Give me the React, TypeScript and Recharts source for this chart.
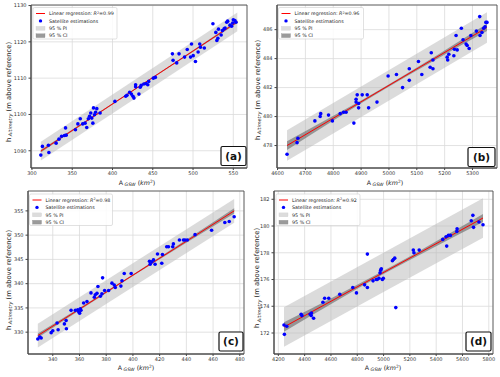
import React from 'react';
import { ComposedChart, XAxis, YAxis, CartesianGrid, Area, Line, Scatter, ReferenceArea } from 'recharts';

const FONT = '"DejaVu Sans", Verdana, sans-serif';

// ---------- Panel (a) ----------
const pointsA: [number, number][] = [
  [311, 1088.8], [313, 1091.2], [320.4, 1091.5], [321, 1089.5], [330, 1092.1], [333.5, 1093.2],
  [336.8, 1094], [340.4, 1094.2], [341.7, 1096.3], [342.5, 1094.3], [354, 1095.8], [357, 1097.4],
  [360, 1098.8], [363, 1097.4], [366, 1097.6], [368, 1096.4], [370, 1098.8], [371.5, 1099.5],
  [373, 1100.4], [374.3, 1099], [375.6, 1097.6], [376.4, 1101.8], [377.6, 1099.9], [379, 1100.6],
  [380.5, 1101.6], [384.6, 1100.4], [403, 1103.6], [416.4, 1105], [418, 1105.3], [421.3, 1106.1],
  [423.4, 1105.6], [425.4, 1105], [426.6, 1104.5], [428.7, 1107.6], [428.7, 1108.2], [432.8, 1105.6],
  [434.4, 1107.5], [435.6, 1108], [438.9, 1108.4], [441.7, 1108.5], [443.8, 1108.2], [445, 1109.1],
  [450.7, 1110], [453.2, 1110.2], [474.4, 1116.7], [475.2, 1114.9], [479.7, 1114.2], [482.6, 1116.7],
  [489.5, 1115.8], [492.8, 1117.9], [496.9, 1115.8], [498.1, 1119.4], [500.2, 1116.2], [503, 1114.6],
  [506.3, 1117.2], [508.3, 1119.4], [509.2, 1118.5], [514, 1118.3], [524.7, 1125], [528.3, 1122.6],
  [529.6, 1120.4], [530.8, 1121], [531.6, 1123.5], [534.9, 1121.9], [536.5, 1123.1], [538.6, 1123.6],
  [539.8, 1123.8], [541.8, 1125.4], [543, 1125.7], [545.9, 1124.6], [547.9, 1124.3], [549.2, 1125.2],
  [550, 1126.1], [552, 1125.9], [553.3, 1125.4],
];
const regA: [number, number][] = [[311, 1089.9], [555, 1125.5]];
const piA: [number, number, number][] = [[311, 1087.3, 1092.5], [433, 1105.1, 1110.3], [555, 1122.9, 1128.1]];
const ciA: [number, number, number][] = [
  [311, 1089.55, 1090.25], [372, 1098.6, 1099.0], [433, 1107.58, 1107.82], [494, 1116.4, 1116.8], [555, 1125.15, 1125.85],
];
const xTicksA = [300, 350, 400, 450, 500, 550];
const yTicksA = [1090, 1100, 1110, 1120, 1130];

// ---------- Panel (b) ----------
const pointsB: [number, number][] = [
  [4634, 477.4], [4670, 478.2], [4673, 478.5], [4734, 479.7], [4753, 480.0], [4755, 480.2],
  [4783, 480.1], [4797, 479.7], [4825, 480.2], [4837, 480.3], [4846, 480.3], [4874, 479.55],
  [4882, 481.2], [4882, 481.0], [4886, 481.5], [4891, 480.6], [4891, 480.9], [4904, 481.5],
  [4922, 481.5], [4927, 480.6], [4957, 481.0], [4997, 482.8], [5027, 482.9], [5049, 482.0],
  [5073, 482.5], [5073, 483.3], [5106, 483.8], [5118, 482.9], [5148, 483.4], [5152, 484.4],
  [5158, 483.9], [5158, 483.3], [5209, 484.1], [5211, 483.9], [5215, 484.3], [5233, 484.2],
  [5235, 484.65], [5241, 485.6], [5245, 484.6], [5260, 486.1], [5266, 485.3], [5277, 485.0],
  [5281, 484.9], [5288, 484.7], [5294, 485.6], [5314, 485.9], [5326, 486.9], [5327, 485.6],
  [5334, 485.8], [5340, 486.1], [5345, 486.2], [5348, 486.5], [5352, 486.5],
];
const regB: [number, number][] = [[4634, 478.0], [5352, 486.15]];
const piB: [number, number, number][] = [[4634, 476.95, 479.05], [4993, 481.02, 483.12], [5352, 485.1, 487.2]];
const ciB: [number, number, number][] = [
  [4634, 477.7, 478.3], [4813.5, 479.89, 480.19], [4993, 481.99, 482.15], [5172.5, 483.98, 484.24], [5352, 485.9, 486.4],
];
const xTicksB = [4600, 4700, 4800, 4900, 5000, 5100, 5200, 5300];
const yTicksB = [478, 480, 482, 484, 486];

// ---------- Panel (c) ----------
const pointsC: [number, number][] = [
  [328.8, 328.6], [330.3, 329.0], [331.3, 328.8], [338.8, 329.9], [340, 330.3], [343.2, 331.9],
  [344, 330.5], [348.7, 331.7], [350, 332.4], [350.2, 330.7], [353.7, 334.5], [356.9, 334.5],
  [358.7, 334.6], [359.4, 334.2], [360.1, 333.9], [360.6, 334.8], [361.1, 334.5], [363.1, 336.0],
  [365.6, 336.3], [368.6, 338.1], [371.1, 337.2], [371.8, 337.7], [373.1, 338.0], [373.8, 339.4],
  [375.6, 337.4], [376.8, 337.9], [377.3, 341.2], [378.8, 338.6], [381.8, 338.6], [384.3, 340.1],
  [386, 339.7], [386.8, 339.2], [391, 339.5], [391.8, 340.6], [393.5, 342.1], [398.7, 342.1],
  [412.4, 344.6], [412.9, 344.0], [414.1, 344.5], [415.4, 344.9], [416.6, 344.0], [418.4, 346.1],
  [421.6, 344.2], [422.1, 346.0], [425.3, 347.6], [426.6, 347.6], [429.8, 347.6], [430.3, 348.2],
  [434.8, 349.0], [437.8, 349.0], [439, 349.0], [440.7, 349.0], [446.5, 350.1], [458.9, 351.0],
  [468.8, 352.6], [472.1, 352.8], [475.8, 353.8],
];
const regC: [number, number][] = [[328.8, 329.3], [475.8, 355.0]];
const piC: [number, number, number][] = [[328.8, 326.85, 331.75], [402.3, 339.7, 344.6], [475.8, 352.55, 357.45]];
const ciC: [number, number, number][] = [
  [328.8, 328.85, 329.75], [365.55, 335.48, 335.98], [402.3, 342.0, 342.3], [439.05, 348.28, 348.88], [475.8, 354.45, 355.55],
];
const xTicksC = [340, 360, 380, 400, 420, 440, 460, 480];
const yTicksC = [330, 335, 340, 345, 350, 355];

// ---------- Panel (d) ----------
const pointsD: [number, number][] = [
  [4243, 172.6], [4246, 171.9], [4264, 172.5], [4373, 173.4], [4379, 173.3], [4442, 173.4],
  [4450, 173.3], [4452, 173.5], [4468, 173.1], [4539, 174.3], [4552, 174.6], [4583, 174.6],
  [4667, 174.9], [4766, 175.4], [4794, 175.0], [4856, 175.6], [4877, 175.4], [4877, 177.9],
  [4920, 175.9], [4945, 176.0], [4952, 176.0], [4965, 176.1], [4973, 176.5], [4978, 176.7],
  [4983, 176.8], [4991, 176.0], [4998, 176.1], [5067, 177.4], [5075, 177.5], [5085, 177.6],
  [5093, 173.9], [5226, 178.2], [5231, 178.0], [5271, 178.2], [5450, 179.0], [5475, 179.2],
  [5480, 178.5], [5493, 179.3], [5508, 179.3], [5557, 179.6], [5559, 179.8], [5667, 180.4],
  [5679, 180.8], [5684, 179.9], [5725, 180.3], [5756, 180.1],
];
const regD: [number, number][] = [[4243, 172.45], [5756, 180.6]];
const piD: [number, number, number][] = [[4243, 170.98, 173.92], [4999.5, 175.06, 178.0], [5756, 179.13, 182.07]];
const ciD: [number, number, number][] = [
  [4243, 172.1, 172.8], [4621.25, 174.29, 174.69], [4999.5, 176.41, 176.65], [5377.75, 178.38, 178.74], [5756, 180.3, 180.9],
];
const xTicksD = [4200, 4400, 4600, 4800, 5000, 5200, 5400, 5600, 5800];
const yTicksD = [172, 174, 176, 178, 180, 182];

const r2Labels = ['0.99', '0.96', '0.98', '0.92'];
const tagLabels = ['(a)', '(b)', '(c)', '(d)'];

type Cfg = {
  left: number; top: number; width: number; height: number;
  mTop: number; mRight: number; yW: number; xH: number;
  xDomain: [number, number]; yDomain: [number, number];
  xTicks: number[]; yTicks: number[];
  points: [number, number][]; reg: [number, number][];
  pi: [number, number, number][]; ci: [number, number, number][];
};

const panels: Cfg[] = [
  { left: 0, top: 0, width: 250, height: 190, mTop: 5, mRight: 3, yW: 31, xH: 22,
    xDomain: [298.8, 567], yDomain: [1085.25, 1130.15], xTicks: xTicksA, yTicks: yTicksA,
    points: pointsA, reg: regA, pi: piA, ci: ciA },
  { left: 250, top: 0, width: 250, height: 190, mTop: 5, mRight: 3, yW: 27, xH: 22,
    xDomain: [4598, 5388], yDomain: [476.45, 487.7], xTicks: xTicksB, yTicks: yTicksB,
    points: pointsB, reg: regB, pi: piB, ci: ciB },
  { left: 0, top: 185, width: 250, height: 192, mTop: 6, mRight: 6, yW: 28, xH: 23,
    xDomain: [321.45, 483.15], yDomain: [325.5, 359.1], xTicks: xTicksC, yTicks: yTicksC,
    points: pointsC, reg: regC, pi: piC, ci: ciC },
  { left: 250, top: 185, width: 250, height: 192, mTop: 6, mRight: 7, yW: 24, xH: 23,
    xDomain: [4167, 5832], yDomain: [170.43, 182.62], xTicks: xTicksD, yTicks: yTicksD,
    points: pointsD, reg: regD, pi: piD, ci: ciD },
];

const tickStyle = { fontSize: 5, fill: '#333', fontFamily: FONT };

const Dot = (p: any) => <circle cx={p.cx} cy={p.cy} r={1.8} fill="#0000ff" />;

function Panel({ cfg }: { cfg: Cfg }) {
  const pts = cfg.points.map(([x, y]) => ({ x, y }));
  const line = cfg.reg.map(([x, y]) => ({ x, y }));
  const pi = cfg.pi.map(([x, lo, hi]) => ({ x, band: [lo, hi] }));
  const ci = cfg.ci.map(([x, lo, hi]) => ({ x, band: [lo, hi] }));
  return (
    <div style={{ position: 'absolute', left: cfg.left, top: cfg.top }}>
      <ComposedChart width={cfg.width} height={cfg.height}
        margin={{ top: cfg.mTop, right: cfg.mRight, left: 0, bottom: 0 }}>
        <CartesianGrid stroke="#dadada" strokeWidth={0.8} />
        <XAxis type="number" dataKey="x" domain={cfg.xDomain} ticks={cfg.xTicks} allowDataOverflow
          interval={0} height={cfg.xH} tickSize={2} tickMargin={1} tick={tickStyle} stroke="#444" />
        <YAxis type="number" domain={cfg.yDomain} ticks={cfg.yTicks} allowDataOverflow
          interval={0} width={cfg.yW} tickSize={2.5} tickMargin={2} tick={tickStyle} stroke="#444" />
        <Area data={pi} dataKey="band" type="linear" stroke="none" fill="#b8b8b8" fillOpacity={0.5}
          isAnimationActive={false} />
        <Area data={ci} dataKey="band" type="monotone" stroke="none" fill="#505050" fillOpacity={0.5}
          isAnimationActive={false} />
        <Line data={line} dataKey="y" type="linear" stroke="#ff0000" strokeWidth={1} dot={false}
          isAnimationActive={false} />
        <Scatter data={pts} dataKey="y" shape={Dot} isAnimationActive={false} />
        <ReferenceArea x1={cfg.xDomain[0]} x2={cfg.xDomain[1]} y1={cfg.yDomain[0]} y2={cfg.yDomain[1]}
          fill="none" stroke="#444" strokeWidth={0.8} />
      </ComposedChart>
    </div>
  );
}

function LegendBox({ x, y, w, r2 }: { x: number; y: number; w: number; r2: string }) {
  const rows = [y + 6, y + 13.4, y + 20.8, y + 28.2];
  const tx = x + 16;
  return (
    <g fontFamily={FONT} fontSize={4.8} fill="#222">
      <rect x={x} y={y} width={w} height={31.5} rx={1.5} fill="#ffffff" fillOpacity={0.85}
        stroke="#cccccc" strokeWidth={0.6} />
      <line x1={x + 3} x2={x + 12} y1={rows[0]} y2={rows[0]} stroke="#ff0000" strokeWidth={1} />
      <text x={tx} y={rows[0] + 1.7}>
        Linear regression: <tspan fontStyle="italic">R</tspan>
        <tspan dy={-1.6} fontSize={3.4}>2</tspan>
        <tspan dy={1.6}>={r2}</tspan>
      </text>
      <circle cx={x + 7.5} cy={rows[1]} r={1.7} fill="#0000ff" />
      <text x={tx} y={rows[1] + 1.7}>Satellite estimations</text>
      <rect x={x + 3} y={rows[2] - 1.9} width={9} height={3.8} fill="#dcdcdc" stroke="#c8c8c8" strokeWidth={0.3} />
      <text x={tx} y={rows[2] + 1.7}>95 % PI</text>
      <rect x={x + 3} y={rows[3] - 1.9} width={9} height={3.8} fill="#9a9a9a" stroke="#888" strokeWidth={0.3} />
      <text x={tx} y={rows[3] + 1.7}>95 % CI</text>
    </g>
  );
}

function Tag({ x, y, w, h, label }: { x: number; y: number; w: number; h: number; label: string }) {
  return (
    <g>
      <rect x={x} y={y} width={w} height={h} rx={1.5} fill="#ffffff" stroke="#111" strokeWidth={1.2} />
      <text x={x + w / 2} y={y + h / 2 + 3.6} textAnchor="middle" fontFamily={FONT} fontWeight="bold"
        fontSize={10.5} fill="#111">{label}</text>
    </g>
  );
}

function XTitle({ cx, y }: { cx: number; y: number }) {
  return (
    <text x={cx} y={y} textAnchor="middle" fontFamily={FONT} fontSize={6.3} fill="#222">
      A<tspan dy={1.3} fontSize={4.6} fontStyle="italic"> GSW</tspan>
      <tspan dy={-1.3}> (</tspan><tspan fontStyle="italic">km</tspan>
      <tspan dy={-2.3} fontSize={4.4}>2</tspan><tspan dy={2.3}>)</tspan>
    </text>
  );
}

function YTitle({ cx, cy }: { cx: number; cy: number }) {
  return (
    <text transform={`translate(${cx},${cy}) rotate(-90)`} x={0} y={2.2} textAnchor="middle"
      fontFamily={FONT} fontSize={6.8} fill="#222">
      h<tspan dy={1.4} fontSize={4.9} fontStyle="italic"> Altimetry</tspan>
      <tspan dy={-1.4}> (m above reference)</tspan>
    </text>
  );
}

const legendPos = [
  { x: 33, y: 7.5, w: 84 }, { x: 278.5, y: 7.5, w: 85 },
  { x: 29.5, y: 194, w: 83 }, { x: 276, y: 194, w: 84 },
];
const tagPos = [
  { x: 221, y: 146.5, w: 25, h: 19 }, { x: 468, y: 147.5, w: 27, h: 19 },
  { x: 219, y: 332, w: 24, h: 19 }, { x: 466, y: 332, w: 25, h: 19 },
];
const xTitlePos = [{ cx: 137, y: 185 }, { cx: 385, y: 185 }, { cx: 136, y: 370 }, { cx: 383, y: 370 }];
const yTitlePos = [{ cx: 8.5, cy: 92 }, { cx: 257.5, cy: 90 }, { cx: 8.5, cy: 280 }, { cx: 257, cy: 278 }];

export default function App() {
  return (
    <div style={{ position: 'absolute', left: 0, top: 0, width: 500, height: 377, background: '#fff', overflow: 'hidden' }}>
      {panels.map((p, i) => <Panel key={i} cfg={p} />)}
      <svg width={500} height={377} style={{ position: 'absolute', left: 0, top: 0, pointerEvents: 'none' }}>
        {legendPos.map((l, i) => <LegendBox key={'l' + i} x={l.x} y={l.y} w={l.w} r2={r2Labels[i]} />)}
        {tagPos.map((t, i) => <Tag key={'t' + i} {...t} label={tagLabels[i]} />)}
        {xTitlePos.map((t, i) => <XTitle key={'x' + i} {...t} />)}
        {yTitlePos.map((t, i) => <YTitle key={'y' + i} {...t} />)}
      </svg>
    </div>
  );
}
